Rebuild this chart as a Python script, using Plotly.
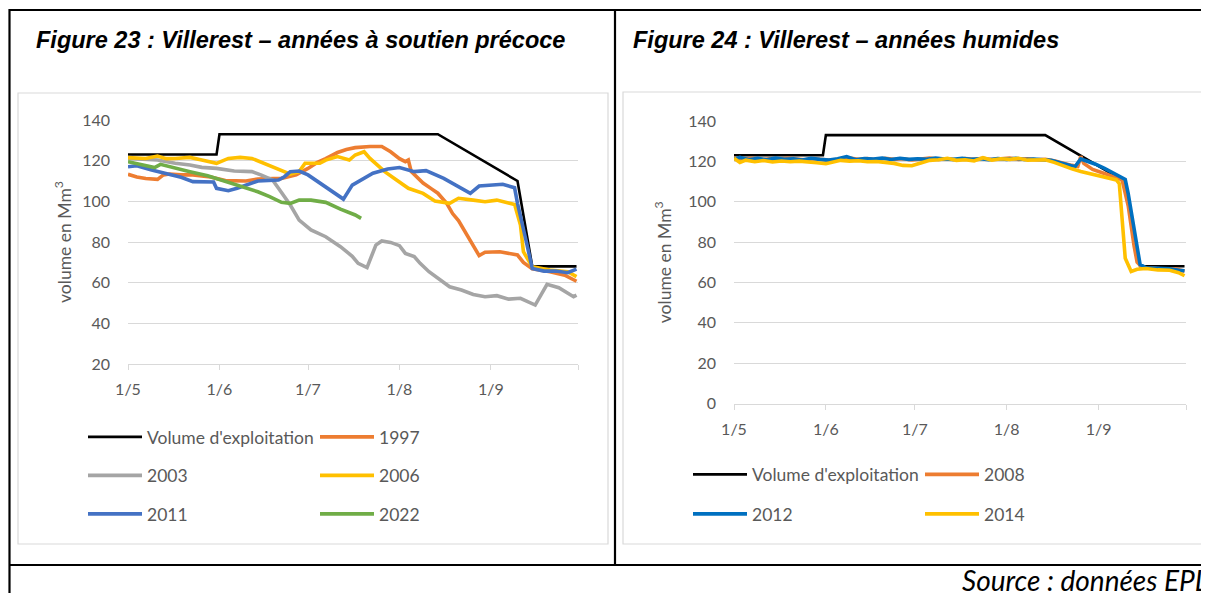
import plotly.graph_objects as go

# page is shown with the browser's 8 px body margin, so the figure is sized to fill the rest
FW, FH = 1201, 585
OFF = 8
YEAR = "2001"

# ---------------- data : left chart (Figure 23) ----------------
vol_dates = ["05-01", "05-31", "06-01", "08-14", "09-10", "09-15", "09-30"]
vol_values = [123, 123, 133, 133, 110, 68, 68]

y1997_dates = ["05-01", "05-04", "05-07", "05-11", "05-13", "05-15", "05-19", "05-23", "05-29",
               "06-03", "06-10", "06-14", "06-22", "06-27", "07-01", "07-04", "07-07", "07-11",
               "07-14", "07-17", "07-22", "07-26", "07-29", "08-01", "08-03", "08-04", "08-05",
               "08-09", "08-12", "08-14", "08-17", "08-19", "08-21", "08-24", "08-28", "08-30",
               "09-04", "09-10", "09-12", "09-15", "09-21", "09-26", "09-30"]
y1997_values = [113.3, 112, 111.2, 110.8, 113, 113.4, 113, 113, 112,
                110.2, 110, 111, 111.3, 113, 116.2, 119, 121, 124,
                125.5, 126.4, 127, 127, 124.4, 121, 119.5, 120.3, 114.6,
                109, 106, 104, 99, 94, 90.5, 83.4, 73.3, 75,
                75.2, 73.6, 70, 66.8, 65.4, 63.7, 60.7]

y2003_dates = ["05-01", "05-11", "05-17", "05-22", "05-26", "05-31", "06-06", "06-12", "06-15",
               "06-19", "06-21", "06-25", "06-28", "07-02", "07-07", "07-12", "07-16", "07-18",
               "07-21", "07-24", "07-26", "07-29", "08-01", "08-03", "08-06", "08-08", "08-11",
               "08-15", "08-18", "08-22", "08-26", "08-30", "09-03", "09-07", "09-11", "09-16",
               "09-20", "09-24", "09-29", "09-30"]
y2003_values = [121.1, 120.3, 118.7, 117.9, 116.7, 116.2, 114.9, 114.6, 113,
                110.5, 106.4, 98.2, 90.8, 85.9, 82.6, 77.7, 73, 69.5,
                67.4, 78.5, 80.5, 79.8, 78.2, 74.4, 72.8, 69.5, 65.4,
                61.3, 58, 56.4, 54.2, 53.1, 53.6, 51.9, 52.3, 49,
                59.2, 57.5, 53.1, 53.9]

y2006_dates = ["05-01", "05-04", "05-07", "05-11", "05-14", "05-17", "05-22", "05-26", "05-31",
               "06-04", "06-08", "06-12", "06-16", "06-21", "06-25", "06-28", "06-30", "07-05",
               "07-07", "07-11", "07-15", "07-17", "07-20", "07-22", "07-27", "07-31", "08-04",
               "08-09", "08-13", "08-18", "08-21", "08-26", "08-30", "09-03", "09-09", "09-11",
               "09-12", "09-15", "09-21", "09-27", "09-30"]
y2006_values = [121.5, 121.5, 121.1, 122.3, 121, 121.1, 121.6, 120.3, 118.7,
                121.1, 121.6, 121.1, 118.7, 115.9, 113.4, 114.6, 118.7, 118.7,
                120.3, 122, 120.3, 122.8, 124.4, 121.1, 114.6, 110.5, 106.4,
                103.9, 100.2, 99, 101.5, 100.6, 99.8, 100.6, 98.5, 88.3,
                75.2, 67.8, 66.2, 65.4, 63]

y2011_dates = ["05-01", "05-04", "05-09", "05-15", "05-19", "05-23", "05-30", "05-31", "06-04",
               "06-07", "06-11", "06-14", "06-21", "06-23", "06-25", "06-28", "07-01", "07-07",
               "07-10", "07-13", "07-16", "07-19", "07-23", "07-28", "08-01", "08-06", "08-10",
               "08-16", "08-20", "08-25", "08-28", "09-02", "09-05", "09-09", "09-10", "09-13",
               "09-15", "09-19", "09-23", "09-27", "09-29", "09-30"]
y2011_values = [117, 117.5, 115.4, 113, 111.8, 109.7, 109.5, 106.4, 105.2,
                106.4, 108.3, 110, 110.5, 112.1, 114.6, 114.9, 113, 107.2,
                104.3, 101.1, 108, 110.5, 113.8, 115.9, 116.6, 114.6, 115.1,
                111.3, 108, 103.9, 107.5, 108, 108.4, 106.7, 99, 80.1,
                67, 65.7, 65.7, 64.9, 66.2, 66.7]

y2022_dates = ["05-01", "05-05", "05-10", "05-12", "05-17", "05-22", "05-28", "06-03", "06-08",
               "06-14", "06-18", "06-22", "06-25", "06-28", "07-02", "07-07", "07-12", "07-17",
               "07-19"]
y2022_values = [119.5, 118.2, 116.6, 118.2, 116.6, 114.6, 112.6, 109.7, 107.5,
                104.7, 102.3, 99.5, 99, 100.6, 100.6, 99.5, 96.2, 93.3,
                91.6]

# ---------------- data : right chart (Figure 24) ----------------
y2008_dates = ["05-01", "05-04", "05-07", "05-10", "05-13", "05-16", "05-19", "05-22", "05-25",
               "05-28", "05-31", "06-03", "06-06", "06-09", "06-12", "06-15", "06-18", "06-21",
               "06-24", "06-27", "06-30", "07-03", "07-06", "07-09", "07-12", "07-15", "07-18",
               "07-21", "07-24", "07-27", "07-30", "08-02", "08-05", "08-08", "08-11", "08-14",
               "08-17", "08-20", "08-23", "08-25", "08-26", "08-27", "08-30", "09-02", "09-05",
               "09-08", "09-09", "09-11", "09-13", "09-14", "09-16", "09-20", "09-24", "09-27",
               "09-30"]
y2008_values = [121.5, 121, 121.5, 120.8, 121.3, 121, 121.5, 121.2, 120.8,
                121.3, 121, 120.5, 121.2, 121.6, 121, 121.4, 120.8, 121.5,
                121, 121.3, 120.7, 121.2, 121.6, 121, 121.3, 120.8, 121.4,
                121, 121.5, 120.9, 121.3, 121.6, 121, 121.3, 120.8, 121,
                120.3, 119, 118, 117.5, 122.5, 119, 116, 114.5, 113,
                111.5, 110.5, 98, 78, 70, 67, 67, 66.5, 66.8,
                65.5]

y2012_dates = ["05-01", "05-03", "05-06", "05-09", "05-12", "05-15", "05-18", "05-21", "05-24",
               "05-27", "05-30", "06-02", "06-05", "06-08", "06-11", "06-14", "06-17", "06-20",
               "06-23", "06-26", "06-29", "07-02", "07-05", "07-08", "07-11", "07-14", "07-17",
               "07-20", "07-23", "07-26", "07-29", "08-01", "08-04", "08-07", "08-10", "08-13",
               "08-16", "08-19", "08-22", "08-24", "08-26", "08-28", "08-31", "09-03", "09-06",
               "09-08", "09-10", "09-11", "09-13", "09-15", "09-17", "09-21", "09-25", "09-28",
               "09-30"]
y2012_values = [121, 122, 120.8, 121.5, 120.8, 121.6, 121, 121.3, 120.7,
                121.5, 121, 120.6, 121.3, 122.4, 120.8, 121.4, 121.2, 121.6,
                120.9, 121.5, 121, 121.3, 121, 121.6, 121.2, 121, 121.5,
                121, 121.3, 120.8, 121.4, 121, 121.5, 120.9, 121.2, 120.9,
                120.5, 119.3, 118, 117.3, 121.2, 120.2, 118.6, 116.5, 114.2,
                112.6, 111, 104, 86, 69, 67.3, 67, 66.7, 66,
                65.8]

y2014_dates = ["05-01", "05-03", "05-05", "05-08", "05-11", "05-14", "05-17", "05-20", "05-23",
               "05-26", "05-29", "06-01", "06-03", "06-06", "06-09", "06-12", "06-15", "06-18",
               "06-21", "06-24", "06-27", "06-30", "07-03", "07-06", "07-09", "07-12", "07-15",
               "07-18", "07-21", "07-24", "07-27", "07-30", "08-02", "08-05", "08-08", "08-11",
               "08-14", "08-17", "08-20", "08-23", "08-26", "08-29", "09-01", "09-04", "09-07",
               "09-08", "09-09", "09-10", "09-12", "09-14", "09-17", "09-21", "09-25", "09-28",
               "09-30"]
y2014_values = [121.5, 119.5, 120.6, 119.8, 120.4, 119.7, 120.2, 119.8, 120.1,
                119.5, 119.3, 118.8, 119.4, 120.5, 120.1, 120.3, 119.8, 119.9,
                119.5, 119, 118, 117.8, 119.2, 120.5, 120.8, 121.5, 120.5,
                120.8, 120.2, 121.8, 120.6, 121.3, 121, 121.5, 120.6, 120.9,
                120.8, 119.5, 117.8, 116.3, 115, 113.9, 113, 112, 110.8,
                108.9, 90, 72, 65.4, 66.5, 66.9, 66.2, 66, 64.8,
                63.3]

tick_dates = ["05-01", "06-01", "07-01", "08-01", "09-01", "09-30 12:00"]
tick_labels = ["1/5", "1/6", "1/7", "1/8", "1/9", " "]

# ---------------- helpers ----------------
def dt(lst):
    return [f"{YEAR}-{s}" for s in lst]

def px_x(x):  # page pixel -> paper fraction
    return (x - OFF) / FW

def px_y(y):
    return 1 - (y - OFF) / FH

GREY_TXT = "#595959"
GRID = "#D9D9D9"
FONT = "Lato"

fig = go.Figure()

left_series = [
    ("Volume d'exploitation", vol_dates, vol_values, "#000000", 2.6, "legend"),
    ("1997", y1997_dates, y1997_values, "#ED7D31", 3.6, "legend"),
    ("2003", y2003_dates, y2003_values, "#A5A5A5", 3.6, "legend2"),
    ("2006", y2006_dates, y2006_values, "#FFC000", 3.6, "legend2"),
    ("2011", y2011_dates, y2011_values, "#4472C4", 3.6, "legend3"),
    ("2022", y2022_dates, y2022_values, "#70AD47", 3.6, "legend3"),
]
for name, ds, vs, col, lw, leg in left_series:
    fig.add_trace(go.Scatter(x=dt(ds), y=vs, name=name, mode="lines",
                             line=dict(color=col, width=lw),
                             xaxis="x", yaxis="y", legend=leg))

right_series = [
    ("Volume d'exploitation", vol_dates, vol_values, "#000000", 2.6, "legend4"),
    ("2008", y2008_dates, y2008_values, "#ED7D31", 3.6, "legend4"),
    ("2012", y2012_dates, y2012_values, "#0070C0", 3.6, "legend5"),
    ("2014", y2014_dates, y2014_values, "#FFC000", 3.6, "legend5"),
]
for name, ds, vs, col, lw, leg in right_series:
    fig.add_trace(go.Scatter(x=dt(ds), y=vs, name=name, mode="lines",
                             line=dict(color=col, width=lw),
                             xaxis="x2", yaxis="y2", legend=leg))

tickfont = dict(family=FONT, size=16, color=GREY_TXT)

xcommon = dict(type="date", range=[f"{YEAR}-05-01", f"{YEAR}-09-30 12:00"],
               tickvals=dt(tick_dates), ticktext=tick_labels,
               ticks="outside", ticklen=5, tickwidth=1.3, tickcolor=GRID,
               showline=True, linecolor=GRID, linewidth=1.3, showgrid=False,
               zeroline=False, tickfont=tickfont, ticklabelstandoff=6,
               automargin=False)

def ycommon(standoff):
    return dict(dtick=20, showgrid=True, gridcolor=GRID, gridwidth=1.3,
                showline=False, zeroline=False, tickfont=tickfont,
                ticklabelstandoff=17, automargin=False,
                title=dict(text="volume en Mm<sup>3</sup>",
                           font=dict(family=FONT, size=17.5, color=GREY_TXT),
                           standoff=standoff))

fig.update_layout(
    template="none",
    width=FW, height=FH, margin=dict(l=0, r=0, t=0, b=0, autoexpand=False),
    paper_bgcolor="white", plot_bgcolor="white",
    showlegend=True,
    xaxis=dict(domain=[px_x(128), px_x(578)], anchor="y", **xcommon),
    yaxis=dict(domain=[px_y(364), px_y(120)], anchor="x", range=[20, 140], **ycommon(6)),
    xaxis2=dict(domain=[px_x(734), px_x(1186)], anchor="y2", **xcommon),
    yaxis2=dict(domain=[px_y(403.5), px_y(121)], anchor="x2", range=[0, 140], **ycommon(12)),
)

legend_common = dict(orientation="h", xanchor="left", yanchor="middle",
                     itemwidth=54, entrywidth=163, bgcolor="rgba(0,0,0,0)",
                     borderwidth=0,
                     font=dict(family=FONT, size=17.5, color=GREY_TXT),
                     traceorder="normal", itemclick=False, itemdoubleclick=False)
fig.update_layout(
    legend=dict(x=px_x(83), y=px_y(437), **legend_common),
    legend2=dict(x=px_x(83), y=px_y(475.5), **legend_common),
    legend3=dict(x=px_x(83), y=px_y(514), **legend_common),
    legend4=dict(x=px_x(688), y=px_y(474.5), **legend_common),
    legend5=dict(x=px_x(688), y=px_y(514), **legend_common),
)

# table borders and chart frames
shapes = []
def line(x0, y0, x1, y1, color="black", width=2.2):
    shapes.append(dict(type="line", xref="paper", yref="paper",
                       x0=px_x(x0), y0=px_y(y0), x1=px_x(x1), y1=px_y(y1),
                       line=dict(color=color, width=width), layer="below"))

def rect(x0, y0, x1, y1, color=GRID, width=1.2):
    shapes.append(dict(type="rect", xref="paper", yref="paper",
                       x0=px_x(x0), y0=px_y(y0), x1=px_x(x1), y1=px_y(y1),
                       line=dict(color=color, width=width), fillcolor="rgba(0,0,0,0)",
                       layer="below"))

line(9, 10, 1215, 10)
line(9.5, 9, 9.5, 600)
line(615, 10, 615, 565)
line(9, 565, 1215, 565)
rect(18, 93, 608, 544)
rect(623, 92, 1220, 544)
fig.update_layout(shapes=shapes)

title_font = dict(family="Liberation Sans", size=23.5, color="black")
annots = [
    dict(text="<b><i>Figure 23 : Villerest – années à soutien précoce</i></b>",
         x=px_x(34), y=px_y(40), xanchor="left", yanchor="middle", font=title_font),
    dict(text="<b><i>Figure 24 : Villerest – années humides</i></b>",
         x=px_x(631), y=px_y(40), xanchor="left", yanchor="middle", font=title_font),
    dict(text="<i>Source : données EPL</i>",
         x=px_x(1210), y=px_y(580), xanchor="right", yanchor="middle",
         font=dict(family=FONT, size=28, color="black")),
    dict(text="d'étiage.",
         x=px_x(-1), y=px_y(-4), xanchor="left", yanchor="middle",
         font=dict(family="Liberation Sans", size=18, color="black")),
]
for a in annots:
    a.update(xref="paper", yref="paper", showarrow=False)
fig.update_layout(annotations=annots)

fig.write_html("out.html")
